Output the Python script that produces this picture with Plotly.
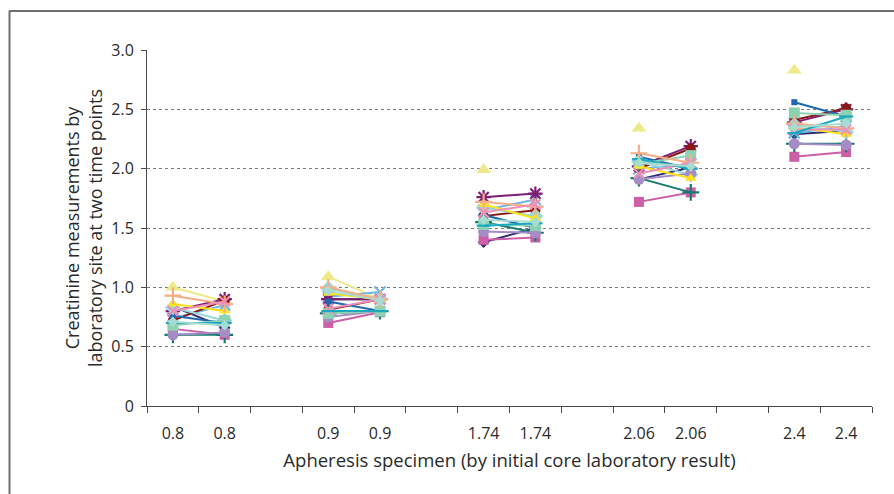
import plotly.graph_objects as go

# Category slots on the x axis (two time points per specimen, blank slot between specimens)
specimens = ["0.8", "0.9", "1.74", "2.06", "2.4"]
slot_labels = ["0.8", "0.8", "", "0.9", "0.9", "", "1.74", "1.74", "", "2.06", "2.06", "", "2.4", "2.4"]
y_ticks = [0, 0.5, 1.0, 1.5, 2.0, 2.5, 3.0]
y_tick_text = ["0", "0.5", "1.0", "1.5", "2.0", "2.5", "3.0"]

# Values per laboratory: for each specimen (time point 1, time point 2)
navy      = [(0.84, 0.66), (0.90, 0.90), (1.38, 1.50), (1.91, 2.01), (2.29, 2.32)]
pink_sq   = [(0.65, 0.60), (0.70, 0.79), (1.40, 1.42), (1.72, 1.80), (2.10, 2.14)]
khaki     = [(1.00, 0.88), (1.09, 0.90), (1.99, None), (2.34, None), (2.83, None)]
lightblue = [(0.74, 0.85), (0.92, 0.96), (1.65, 1.74), (2.00, 2.04), (2.30, 2.36)]
purple    = [(0.80, 0.90), (0.90, 0.90), (1.76, 1.79), (2.02, 2.19), (2.39, 2.50)]
darkred   = [(0.72, 0.89), (0.81, 0.90), (1.60, 1.65), (2.00, 2.17), (2.41, 2.51)]
teal      = [(0.60, 0.60), (0.78, 0.80), (1.55, 1.46), (1.92, 1.80), (2.21, 2.21)]
blue      = [(0.76, 0.70), (0.88, 0.80), (1.61, 1.50), (2.10, 2.00), (2.56, 2.44)]
lightcyan = [(0.83, 0.72), (0.99, 0.90), (1.67, 1.60), (2.06, 1.95), (2.37, 2.31)]
lavender  = [(0.60, 0.62), (0.75, 0.80), (1.47, 1.46), (1.91, 1.96), (2.21, 2.20)]
mint      = [(0.68, 0.72), (0.78, 0.80), (1.53, 1.52), (2.04, 2.11), (2.47, 2.45)]
gold      = [(0.86, 0.80), (0.95, 0.90), (1.70, 1.58), (2.02, 1.92), (2.35, 2.29)]
salmon    = [(0.93, 0.86), (1.00, 0.90), (1.72, 1.68), (2.13, 2.05), (2.38, 2.34)]
lightpink = [(0.80, 0.88), (0.82, 0.90), (1.63, 1.70), (1.96, 2.05), (2.33, 2.33)]
cyan      = [(0.70, 0.70), (0.80, 0.80), (1.52, 1.54), (2.08, 2.00), (2.30, 2.44)]
paleteal  = [(0.71, 0.68), (0.97, 0.89), (1.57, 1.55), (2.05, 2.02), (2.35, 2.38)]

labs = [
    ("Lab A", navy, "#2e2d74", "diamond", 9),
    ("Lab B", pink_sq, "#cc5fa6", "square", 10),
    ("Lab C", khaki, "#eee98a", "triangle-up", 13),
    ("Lab D", lightblue, "#6eb6e6", "x-thin-open", 11),
    ("Lab E", purple, "#7e1e72", "asterisk-open", 12),
    ("Lab F", darkred, "#8c1616", "circle", 10),
    ("Lab G", teal, "#147a70", "cross-thin-open", 12),
    ("Lab H", blue, "#1f68b0", "square", 6),
    ("Lab I", lightcyan, "#9ad8da", "diamond", 12),
    ("Lab J", lavender, "#a68cc6", "circle", 11),
    ("Lab K", mint, "#8ed2b4", "square", 11),
    ("Lab L", gold, "#ffe21a", "triangle-up", 10),
    ("Lab M", salmon, "#f5ae86", "cross-thin-open", 12),
    ("Lab N", lightpink, "#ee8fb8", "x-thin-open", 10),
    ("Lab O", cyan, "#1da8c0", "line-ew-open", 10),
    ("Lab P", paleteal, "#a6dcd2", "diamond", 8),
]

fig = go.Figure()
for name, vals, color, symbol, size in labs:
    xs, ys = [], []
    for g, (v1, v2) in enumerate(vals):
        xs += [g * 3 + 0.5, g * 3 + 1.5, None]
        ys += [v1, v2, None]
    thin = symbol.endswith("-open")
    fig.add_trace(go.Scatter(
        x=xs, y=ys, name=name, mode="lines+markers",
        line=dict(color=color, width=2),
        marker=dict(symbol=symbol, size=size, color=color,
                    line=dict(color=color, width=2.2 if thin else 0)),
        connectgaps=False, showlegend=False,
    ))

font = "Open Sans, DejaVu Sans, sans-serif"
fig.update_layout(
    width=894, height=494,
    margin=dict(l=147, r=22, t=50, b=88),
    paper_bgcolor="white", plot_bgcolor="white",
    font=dict(family=font, size=16, color="#2a2a2a"),
    xaxis=dict(
        range=[0, 14], tickmode="array",
        tickvals=[i + 0.5 for i in range(14)], ticktext=slot_labels,
        ticks="", showgrid=False, zeroline=False,
        showline=True, linecolor="#4a4a4a", linewidth=1,
        minor=dict(ticks="outside", ticklen=6, tickcolor="#4a4a4a", tick0=0, dtick=1, showgrid=False),
        tickfont=dict(size=16), ticklabelstandoff=13,
        title=dict(text="Apheresis specimen (by initial core laboratory result)",
                   font=dict(size=18.5), standoff=10),
    ),
    yaxis=dict(
        range=[0, 3], tickmode="array", tickvals=y_ticks, ticktext=y_tick_text,
        ticks="outside", ticklen=5, tickcolor="#4a4a4a",
        showgrid=True, gridcolor="#7a7a7a", griddash="dot", gridwidth=1,
        zeroline=False, showline=True, linecolor="#4a4a4a", linewidth=1,
        tickfont=dict(size=16), ticklabelstandoff=4,
        title=dict(text="Creatinine measurements by<br>laboratory site at two time points",
                   font=dict(size=18), standoff=3),
    ),
)

# outer frame lines (top and left edges of the figure box)
W, H = 725.0, 356.0
def px(x):
    return (x - 147) / W
def py(y):
    return (406 - y) / H
fig.add_shape(type="line", xref="paper", yref="paper", x0=px(9), x1=px(894), y0=py(11), y1=py(11),
              line=dict(color="#6e6e6e", width=2))
fig.add_shape(type="line", xref="paper", yref="paper", x0=px(9.5), x1=px(9.5), y0=py(11), y1=py(494),
              line=dict(color="#6e6e6e", width=2))

fig.write_html("out.html")
